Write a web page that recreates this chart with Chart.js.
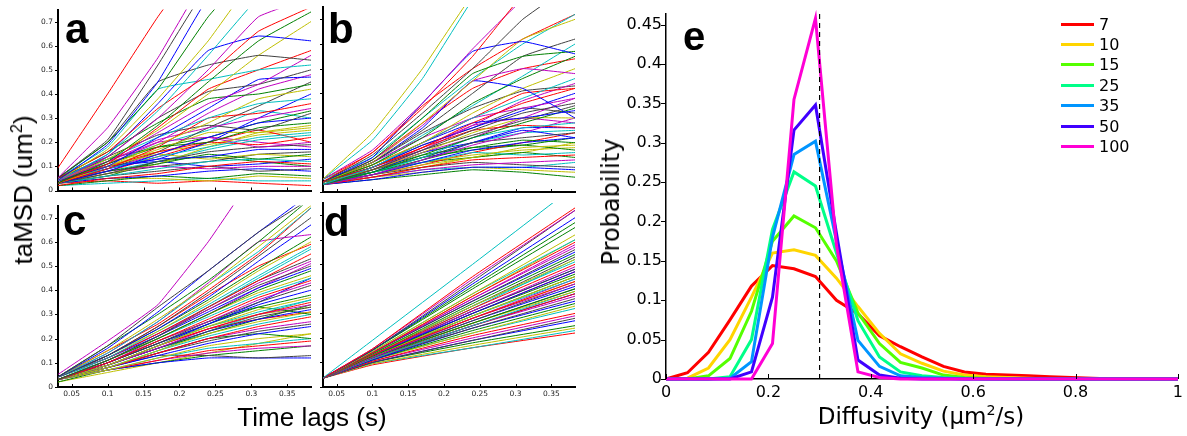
<!DOCTYPE html>
<html>
<head>
<meta charset="utf-8">
<script src="https://cdn.jsdelivr.net/npm/chart.js@4.4.0/dist/chart.umd.min.js"></script>
<style>
  body { margin: 0; width: 1187px; height: 436px; background: #fff; position: relative; overflow: hidden; }
  canvas { position: absolute; }
  .lbl { position: absolute; white-space: nowrap; color: #000; }
  .letter { position: absolute; font: bold 42px 'Liberation Sans', Arial, sans-serif; line-height: 42px; }
  sup { font-size: 0.62em; line-height: 0; }
  #legend { position: absolute; left: 1061px; top: 14px; font: 16px 'DejaVu Sans', sans-serif; }
  #legend div { height: 20.4px; display: flex; align-items: center; }
  #legend span.ln { display: inline-block; width: 33px; height: 3px; margin-right: 5px; }
</style>
</head>
<body>
<canvas id="pa"></canvas>
<canvas id="pb"></canvas>
<canvas id="pc"></canvas>
<canvas id="pd"></canvas>
<canvas id="pe"></canvas>

<div class="letter" style="left:65px; top:8px">a</div>
<div class="letter" style="left:328px; top:8px">b</div>
<div class="letter" style="left:63px; top:200px">c</div>
<div class="letter" style="left:324px; top:201px">d</div>
<div class="letter" style="left:683px; top:15px; font-size:40px">e</div>

<div class="lbl" style="left:0; width:624px; text-align:center; top:404px; font:26px 'Liberation Sans', Arial, sans-serif; line-height:26px">Time lags (s)</div>
<div class="lbl" style="left:23px; top:190px; transform:translate(-50%,-50%) rotate(-90deg); font:26px 'Liberation Sans', Arial, sans-serif; line-height:26px">taMSD (um<sup>2</sup>)</div>
<div class="lbl" style="left:611px; top:202px; transform:translate(-50%,-50%) rotate(-90deg); font:24px 'DejaVu Sans', sans-serif; line-height:24px">Probability</div>
<div class="lbl" style="left:721px; width:400px; text-align:center; top:405px; font:23px 'DejaVu Sans', sans-serif; line-height:23px">Diffusivity (µm<sup>2</sup>/s)</div>
<div id="legend"></div>

<script>
// time lags (s) at which each taMSD curve is sampled
const lagsABC = [0.03, 0.1, 0.17, 0.24, 0.31, 0.383];
const lagsD = [0.03, 0.1, 0.24, 0.383];
const lagTicks = [0.05, 0.1, 0.15, 0.2, 0.25, 0.3, 0.35];
const msdTicks = [0, 0.1, 0.2, 0.3, 0.4, 0.5, 0.6, 0.7];

// taMSD (um^2), one row per trajectory
const msdA = [
  [0.09, 0.40, 0.72, 1.0, 1.2, 1.4],
  [0.05, 0.26, 0.55, 0.9, 1.1, 1.2],
  [0.05, 0.21, 0.52, 0.85, 1.0, 1.2],
  [0.04, 0.19, 0.45, 0.8, 1.0, 1.1],
  [0.05, 0.2, 0.42, 0.72, 0.95, 1.1],
  [0.04, 0.17, 0.38, 0.62, 0.9, 1.0],
  [0.04, 0.15, 0.33, 0.56, 0.8, 0.95],
  [0.05, 0.16, 0.34, 0.48, 0.66, 0.76],
  [0.04, 0.14, 0.30, 0.50, 0.72, 0.8],
  [0.05, 0.2, 0.45, 0.52, 0.56, 0.54],
  [0.04, 0.15, 0.36, 0.58, 0.64, 0.62],
  [0.03, 0.12, 0.27, 0.45, 0.62, 0.74],
  [0.04, 0.13, 0.25, 0.4, 0.56, 0.7],
  [0.05, 0.18, 0.42, 0.46, 0.5, 0.52],
  [0.03, 0.11, 0.26, 0.42, 0.5, 0.58],
  [0.04, 0.12, 0.24, 0.36, 0.44, 0.56],
  [0.03, 0.14, 0.3, 0.41, 0.44, 0.5],
  [0.04, 0.10, 0.22, 0.34, 0.46, 0.47],
  [0.05, 0.16, 0.28, 0.38, 0.40, 0.44],
  [0.03, 0.1, 0.19, 0.28, 0.38, 0.42],
  [0.04, 0.13, 0.22, 0.3, 0.36, 0.38],
  [0.03, 0.09, 0.18, 0.3, 0.32, 0.36],
  [0.04, 0.12, 0.21, 0.26, 0.3, 0.34],
  [0.05, 0.14, 0.23, 0.27, 0.25, 0.32],
  [0.03, 0.08, 0.15, 0.22, 0.28, 0.3],
  [0.04, 0.11, 0.18, 0.2, 0.26, 0.28],
  [0.03, 0.1, 0.17, 0.24, 0.24, 0.26],
  [0.04, 0.09, 0.14, 0.18, 0.22, 0.24],
  [0.03, 0.1, 0.16, 0.2, 0.19, 0.22],
  [0.05, 0.12, 0.2, 0.22, 0.18, 0.2],
  [0.03, 0.07, 0.12, 0.16, 0.18, 0.19],
  [0.04, 0.09, 0.13, 0.14, 0.17, 0.17],
  [0.03, 0.08, 0.11, 0.15, 0.13, 0.15],
  [0.04, 0.1, 0.15, 0.13, 0.15, 0.14],
  [0.03, 0.06, 0.09, 0.12, 0.13, 0.12],
  [0.02, 0.05, 0.07, 0.1, 0.12, 0.11],
  [0.04, 0.08, 0.1, 0.09, 0.1, 0.1],
  [0.03, 0.06, 0.08, 0.1, 0.08, 0.09],
  [0.03, 0.05, 0.06, 0.08, 0.09, 0.08],
  [0.02, 0.04, 0.06, 0.05, 0.07, 0.06],
  [0.03, 0.05, 0.05, 0.04, 0.06, 0.05],
  [0.02, 0.03, 0.04, 0.05, 0.04, 0.04],
  [0.03, 0.04, 0.03, 0.04, 0.03, 0.02],
  [0.04, 0.11, 0.2, 0.32, 0.42, 0.48],
  [0.03, 0.09, 0.16, 0.26, 0.35, 0.45],
  [0.04, 0.1, 0.13, 0.2, 0.3, 0.4],
  [0.05, 0.13, 0.18, 0.22, 0.28, 0.33],
  [0.03, 0.07, 0.11, 0.18, 0.24, 0.27],
  [0.04, 0.08, 0.12, 0.17, 0.21, 0.23],
  [0.03, 0.08, 0.14, 0.2, 0.25, 0.2],
  [0.04, 0.09, 0.15, 0.22, 0.2, 0.18],
  [0.03, 0.07, 0.1, 0.12, 0.15, 0.16],
  [0.05, 0.1, 0.12, 0.1, 0.11, 0.13],
  [0.03, 0.06, 0.12, 0.14, 0.12, 0.1],
  [0.04, 0.12, 0.16, 0.19, 0.23, 0.25],
  [0.03, 0.11, 0.19, 0.25, 0.33, 0.3]
];

const msdB = [
  [0.05, 0.24, 0.5, 0.8, 1.0, 1.2],
  [0.05, 0.21, 0.46, 0.78, 1.0, 1.1],
  [0.04, 0.16, 0.34, 0.55, 0.8, 1.0],
  [0.05, 0.17, 0.36, 0.58, 0.78, 0.9],
  [0.04, 0.15, 0.32, 0.5, 0.7, 0.85],
  [0.04, 0.14, 0.36, 0.57, 0.61, 0.56],
  [0.04, 0.13, 0.3, 0.48, 0.55, 0.57],
  [0.04, 0.12, 0.28, 0.45, 0.62, 0.7],
  [0.05, 0.14, 0.3, 0.46, 0.6, 0.72],
  [0.05, 0.16, 0.35, 0.5, 0.62, 0.72],
  [0.04, 0.13, 0.27, 0.45, 0.5, 0.48],
  [0.04, 0.12, 0.25, 0.4, 0.55, 0.62],
  [0.04, 0.12, 0.26, 0.45, 0.42, 0.3],
  [0.04, 0.11, 0.22, 0.36, 0.46, 0.55],
  [0.04, 0.11, 0.2, 0.32, 0.42, 0.5],
  [0.03, 0.1, 0.2, 0.3, 0.38, 0.46],
  [0.04, 0.1, 0.18, 0.28, 0.36, 0.42],
  [0.04, 0.12, 0.22, 0.3, 0.34, 0.38],
  [0.03, 0.09, 0.17, 0.25, 0.32, 0.36],
  [0.04, 0.1, 0.2, 0.28, 0.3, 0.33],
  [0.03, 0.08, 0.15, 0.22, 0.28, 0.34],
  [0.04, 0.09, 0.16, 0.24, 0.3, 0.3],
  [0.03, 0.08, 0.14, 0.22, 0.26, 0.28],
  [0.04, 0.1, 0.18, 0.25, 0.27, 0.26],
  [0.03, 0.07, 0.13, 0.19, 0.24, 0.3],
  [0.04, 0.09, 0.14, 0.2, 0.22, 0.24],
  [0.03, 0.07, 0.12, 0.17, 0.2, 0.22],
  [0.04, 0.08, 0.13, 0.18, 0.21, 0.2],
  [0.03, 0.07, 0.11, 0.14, 0.18, 0.19],
  [0.04, 0.08, 0.12, 0.16, 0.15, 0.16],
  [0.03, 0.06, 0.1, 0.13, 0.14, 0.15],
  [0.03, 0.06, 0.09, 0.11, 0.12, 0.13],
  [0.04, 0.07, 0.1, 0.12, 0.11, 0.1],
  [0.03, 0.05, 0.08, 0.1, 0.1, 0.09],
  [0.03, 0.05, 0.07, 0.09, 0.08, 0.06],
  [0.04, 0.06, 0.08, 0.1, 0.09, 0.08],
  [0.03, 0.06, 0.09, 0.1, 0.1, 0.12],
  [0.04, 0.11, 0.2, 0.3, 0.4, 0.42],
  [0.03, 0.09, 0.17, 0.27, 0.37, 0.44],
  [0.04, 0.1, 0.17, 0.23, 0.29, 0.35],
  [0.03, 0.08, 0.16, 0.2, 0.25, 0.22],
  [0.04, 0.09, 0.15, 0.18, 0.19, 0.17],
  [0.03, 0.07, 0.12, 0.15, 0.17, 0.18],
  [0.04, 0.08, 0.14, 0.2, 0.24, 0.25],
  [0.03, 0.07, 0.11, 0.16, 0.2, 0.24],
  [0.04, 0.09, 0.16, 0.22, 0.3, 0.38],
  [0.04, 0.12, 0.24, 0.34, 0.41, 0.43],
  [0.03, 0.1, 0.19, 0.26, 0.33, 0.4],
  [0.04, 0.08, 0.12, 0.14, 0.16, 0.14],
  [0.03, 0.06, 0.1, 0.14, 0.16, 0.2],
  [0.04, 0.11, 0.23, 0.35, 0.47, 0.6],
  [0.04, 0.13, 0.28, 0.42, 0.5, 0.54],
  [0.03, 0.09, 0.18, 0.27, 0.3, 0.28],
  [0.04, 0.1, 0.19, 0.26, 0.34, 0.32],
  [0.03, 0.07, 0.13, 0.2, 0.26, 0.26],
  [0.04, 0.08, 0.14, 0.17, 0.19, 0.22]
];

const msdC = [
  [0.05, 0.19, 0.34, 0.6, 0.9, 1.1],
  [0.04, 0.17, 0.33, 0.48, 0.64, 0.78],
  [0.04, 0.16, 0.31, 0.48, 0.64, 0.8],
  [0.04, 0.17, 0.3, 0.44, 0.6, 0.78],
  [0.04, 0.15, 0.28, 0.42, 0.58, 0.75],
  [0.04, 0.14, 0.27, 0.42, 0.56, 0.74],
  [0.04, 0.15, 0.26, 0.4, 0.55, 0.74],
  [0.04, 0.14, 0.27, 0.43, 0.6, 0.63],
  [0.04, 0.13, 0.25, 0.39, 0.54, 0.7],
  [0.04, 0.13, 0.24, 0.37, 0.52, 0.67],
  [0.04, 0.13, 0.24, 0.36, 0.49, 0.62],
  [0.04, 0.13, 0.23, 0.35, 0.48, 0.6],
  [0.04, 0.12, 0.23, 0.34, 0.46, 0.58],
  [0.04, 0.12, 0.22, 0.33, 0.44, 0.55],
  [0.04, 0.12, 0.22, 0.32, 0.43, 0.52],
  [0.03, 0.11, 0.21, 0.32, 0.42, 0.5],
  [0.04, 0.12, 0.21, 0.31, 0.41, 0.49],
  [0.03, 0.11, 0.2, 0.3, 0.4, 0.48],
  [0.03, 0.11, 0.2, 0.3, 0.39, 0.46],
  [0.04, 0.11, 0.2, 0.29, 0.38, 0.45],
  [0.03, 0.1, 0.19, 0.28, 0.37, 0.44],
  [0.03, 0.1, 0.19, 0.27, 0.36, 0.43],
  [0.03, 0.1, 0.18, 0.27, 0.35, 0.42],
  [0.03, 0.1, 0.18, 0.26, 0.34, 0.4],
  [0.03, 0.1, 0.18, 0.26, 0.33, 0.38],
  [0.03, 0.09, 0.17, 0.25, 0.32, 0.37],
  [0.03, 0.09, 0.17, 0.25, 0.31, 0.36],
  [0.03, 0.09, 0.17, 0.24, 0.3, 0.35],
  [0.03, 0.09, 0.16, 0.24, 0.3, 0.34],
  [0.03, 0.09, 0.16, 0.23, 0.29, 0.33],
  [0.03, 0.09, 0.16, 0.23, 0.28, 0.32],
  [0.03, 0.1, 0.19, 0.27, 0.33, 0.3],
  [0.03, 0.08, 0.15, 0.22, 0.27, 0.31],
  [0.03, 0.08, 0.15, 0.21, 0.26, 0.3],
  [0.03, 0.08, 0.14, 0.2, 0.25, 0.29],
  [0.03, 0.08, 0.14, 0.2, 0.24, 0.27],
  [0.03, 0.08, 0.14, 0.19, 0.23, 0.26],
  [0.03, 0.08, 0.13, 0.18, 0.22, 0.25],
  [0.03, 0.08, 0.14, 0.2, 0.22, 0.2],
  [0.03, 0.07, 0.12, 0.17, 0.2, 0.22],
  [0.03, 0.07, 0.12, 0.16, 0.18, 0.2],
  [0.03, 0.07, 0.11, 0.15, 0.17, 0.19],
  [0.03, 0.07, 0.11, 0.14, 0.16, 0.17],
  [0.03, 0.08, 0.13, 0.13, 0.12, 0.13],
  [0.03, 0.07, 0.1, 0.12, 0.12, 0.12],
  [0.02, 0.07, 0.1, 0.13, 0.15, 0.17],
  [0.02, 0.06, 0.1, 0.14, 0.18, 0.22],
  [0.04, 0.12, 0.22, 0.33, 0.45, 0.57],
  [0.04, 0.13, 0.25, 0.38, 0.5, 0.59],
  [0.03, 0.1, 0.2, 0.3, 0.41, 0.51],
  [0.03, 0.11, 0.21, 0.33, 0.44, 0.53],
  [0.03, 0.09, 0.17, 0.26, 0.35, 0.45],
  [0.03, 0.09, 0.16, 0.22, 0.28, 0.34],
  [0.03, 0.1, 0.18, 0.25, 0.3, 0.33],
  [0.03, 0.08, 0.15, 0.23, 0.3, 0.36],
  [0.03, 0.09, 0.17, 0.24, 0.28, 0.31]
];

const msdD = [
  [0.035, 0.19, 0.5, 0.82],
  [0.035, 0.155, 0.45, 0.73],
  [0.035, 0.155, 0.44, 0.72],
  [0.035, 0.15, 0.43, 0.72],
  [0.035, 0.15, 0.42, 0.69],
  [0.035, 0.15, 0.4, 0.65],
  [0.035, 0.145, 0.38, 0.62],
  [0.035, 0.145, 0.38, 0.6],
  [0.035, 0.14, 0.37, 0.59],
  [0.035, 0.14, 0.36, 0.58],
  [0.035, 0.14, 0.35, 0.56],
  [0.035, 0.14, 0.35, 0.55],
  [0.035, 0.135, 0.34, 0.54],
  [0.035, 0.135, 0.33, 0.52],
  [0.035, 0.135, 0.33, 0.51],
  [0.035, 0.13, 0.32, 0.5],
  [0.035, 0.13, 0.31, 0.49],
  [0.035, 0.13, 0.31, 0.48],
  [0.035, 0.13, 0.3, 0.47],
  [0.035, 0.125, 0.3, 0.46],
  [0.035, 0.125, 0.29, 0.45],
  [0.035, 0.125, 0.29, 0.44],
  [0.035, 0.125, 0.28, 0.43],
  [0.035, 0.12, 0.28, 0.42],
  [0.035, 0.12, 0.27, 0.42],
  [0.035, 0.12, 0.27, 0.41],
  [0.035, 0.12, 0.26, 0.4],
  [0.035, 0.12, 0.26, 0.39],
  [0.035, 0.115, 0.25, 0.39],
  [0.035, 0.115, 0.25, 0.38],
  [0.035, 0.115, 0.25, 0.37],
  [0.035, 0.115, 0.24, 0.36],
  [0.035, 0.11, 0.24, 0.35],
  [0.035, 0.11, 0.23, 0.34],
  [0.035, 0.11, 0.22, 0.33],
  [0.035, 0.11, 0.22, 0.32],
  [0.035, 0.105, 0.21, 0.3],
  [0.035, 0.105, 0.2, 0.29],
  [0.035, 0.1, 0.19, 0.28],
  [0.035, 0.1, 0.19, 0.27],
  [0.035, 0.1, 0.18, 0.25],
  [0.035, 0.095, 0.17, 0.24],
  [0.035, 0.095, 0.16, 0.23],
  [0.035, 0.09, 0.16, 0.22],
  [0.035, 0.14, 0.36, 0.57],
  [0.035, 0.13, 0.33, 0.53],
  [0.035, 0.125, 0.31, 0.48],
  [0.035, 0.12, 0.29, 0.45],
  [0.035, 0.12, 0.28, 0.43],
  [0.035, 0.13, 0.32, 0.52],
  [0.035, 0.125, 0.3, 0.47],
  [0.035, 0.12, 0.28, 0.44],
  [0.035, 0.115, 0.26, 0.4],
  [0.035, 0.11, 0.25, 0.38],
  [0.035, 0.15, 0.41, 0.67],
  [0.035, 0.14, 0.37, 0.6]
];

// panel e: diffusivity histogram bin centres (um^2/s) and probabilities
const diffBins = [0, 0.042, 0.083, 0.125, 0.167, 0.208, 0.25, 0.292, 0.333, 0.375, 0.417, 0.458, 0.5,
  0.542, 0.583, 0.625, 0.667, 0.708, 0.75, 0.792, 0.833, 0.875, 0.917, 0.958, 1];
const densities = ['7', '10', '15', '25', '35', '50', '100'];
const prob7 = [0, 0.008, 0.034, 0.075, 0.118, 0.144, 0.14, 0.13, 0.1, 0.083, 0.055, 0.041, 0.028, 0.016, 0.009, 0.006, 0.005, 0.004, 0.003, 0.002, 0.001, 0, 0, 0, 0];
const prob10 = [0, 0.001, 0.014, 0.05, 0.104, 0.16, 0.164, 0.157, 0.128, 0.092, 0.058, 0.032, 0.02, 0.01, 0.005, 0.003, 0.002, 0.001, 0, 0, 0, 0, 0, 0, 0];
const prob15 = [0, 0, 0.004, 0.026, 0.086, 0.175, 0.207, 0.192, 0.15, 0.084, 0.045, 0.021, 0.014, 0.005, 0.002, 0.001, 0, 0, 0, 0, 0, 0, 0, 0, 0];
const prob25 = [0, 0, 0, 0.003, 0.05, 0.19, 0.263, 0.245, 0.16, 0.074, 0.028, 0.009, 0.004, 0.002, 0.001, 0, 0, 0, 0, 0, 0, 0, 0, 0, 0];
const prob35 = [0, 0, 0, 0.001, 0.022, 0.18, 0.285, 0.302, 0.175, 0.049, 0.016, 0.004, 0.002, 0.001, 0, 0, 0, 0, 0, 0, 0, 0, 0, 0, 0];
const prob50 = [0, 0, 0, 0, 0.009, 0.104, 0.316, 0.348, 0.185, 0.024, 0.005, 0.001, 0, 0, 0, 0, 0, 0, 0, 0, 0, 0, 0, 0, 0];
const prob100 = [0, 0, 0, 0, 0, 0.045, 0.355, 0.458, 0.17, 0.009, 0.002, 0, 0, 0, 0, 0, 0, 0, 0, 0, 0, 0, 0, 0, 0];
const probTicks = [0, 0.05, 0.1, 0.15, 0.2, 0.25, 0.3, 0.35, 0.4, 0.45];
const diffTicks = [0, 0.2, 0.4, 0.6, 0.8, 1];
const refDiff = 0.3;

const lineColors = ['#ff0000', '#bf00bf', '#404040', '#0000ff', '#008000', '#bfbf00', '#00bfbf'];
const densColors = ['#ff0000', '#ffd500', '#55ff00', '#00ff88', '#0095ff', '#4000ff', '#ff00d5'];

Chart.defaults.font.family = "'DejaVu Sans', sans-serif";
Chart.defaults.color = '#000';

// tick marks: x ticks point up into the plot, y ticks point left out of it
const tickMarks = {
	id: 'tickMarks',
	afterDraw(chart, args, opts) {
		const { ctx, chartArea: a, scales: { x, y } } = chart;
		const len = opts.len || 4;
		ctx.save();
		ctx.strokeStyle = '#000';
		ctx.lineWidth = 1;
		ctx.beginPath();
		x.ticks.forEach(t => {
			const px = Math.round(x.getPixelForValue(t.value)) + 0.5;
			ctx.moveTo(px, a.bottom);
			ctx.lineTo(px, a.bottom - len);
		});
		y.ticks.forEach(t => {
			const py = Math.round(y.getPixelForValue(t.value)) + 0.5;
			ctx.moveTo(a.left, py);
			ctx.lineTo(a.left - len, py);
		});
		ctx.stroke();
		ctx.restore();
	}
};

const fmt = v => String(v);

const msdChart = (id, box, lags, lines, showX, showY, colorShift) => {
	const canvas = document.getElementById(id);
	const padL = 40, padT = 7, padR = 3, xh = showX ? 20 : 8;
	canvas.width = box.right - box.left + padL + padR;
	canvas.height = box.bottom - box.top + padT + xh;
	canvas.style.left = (box.left - padL) + 'px';
	canvas.style.top = (box.top - padT) + 'px';
	return new Chart(canvas, {
		type: 'line',
		data: {
			datasets: lines.map((vals, i) => ({
				data: vals.map((v, j) => ({ x: lags[j], y: v })),
				borderColor: lineColors[(i + colorShift) % lineColors.length],
				borderWidth: 1,
				pointRadius: 0,
				tension: 0.1,
				clip: 0
			}))
		},
		options: {
			responsive: false,
			animation: false,
			events: [],
			layout: { padding: { top: padT, right: padR, left: 0, bottom: 0 } },
			plugins: { legend: { display: false }, tooltip: { enabled: false }, tickMarks: { len: 3 } },
			scales: {
				x: {
					type: 'linear', min: 0.031, max: 0.383,
					grid: { display: false, drawTicks: false },
					border: { display: true, color: '#000', width: 2 },
					afterBuildTicks: s => { s.ticks = lagTicks.map(v => ({ value: v })); },
					afterFit: s => { s.height = xh; },
					ticks: { display: showX, padding: 3, font: { size: 7.5 }, color: '#222', maxRotation: 0, autoSkip: false, callback: fmt }
				},
				y: {
					type: 'linear', min: 0, max: 0.75,
					grid: { display: false, drawTicks: false },
					border: { display: true, color: '#000', width: 2 },
					afterBuildTicks: s => { s.ticks = msdTicks.map(v => ({ value: v })); },
					afterFit: s => { s.width = padL; },
					ticks: { display: showY, padding: 5, font: { size: 7.5 }, color: '#222', autoSkip: false, callback: fmt }
				}
			}
		},
		plugins: [tickMarks]
	});
}

msdChart('pa', { left: 58, top: 7, right: 311, bottom: 192 }, lagsABC, msdA, false, true, 0);
msdChart('pb', { left: 323, top: 7, right: 575, bottom: 192 }, lagsABC, msdB, false, false, 5);
msdChart('pc', { left: 58, top: 203, right: 311, bottom: 387 }, lagsABC, msdC, true, true, 1);
msdChart('pd', { left: 323, top: 203, right: 575, bottom: 387 }, lagsD, msdD, true, false, 6);

// panel e
const probSeries = [prob7, prob10, prob15, prob25, prob35, prob50, prob100];
const eCanvas = document.getElementById('pe');
eCanvas.width = 571;
eCanvas.height = 410;
eCanvas.style.left = '616px';
eCanvas.style.top = '0px';
const yMaxE = 0.464;

new Chart(eCanvas, {
	type: 'line',
	data: {
		datasets: [
			{
				data: [{ x: refDiff, y: 0 }, { x: refDiff, y: yMaxE }],
				borderColor: '#000', borderWidth: 1.2, borderDash: [5, 4], pointRadius: 0, order: 0
			},
			...probSeries.map((s, i) => ({
				label: densities[i],
				data: s.map((v, j) => ({ x: diffBins[j], y: v })),
				borderColor: densColors[i],
				borderWidth: 3,
				borderJoinStyle: 'miter',
				pointRadius: 0,
				order: probSeries.length - i,
				clip: false
			}))
		]
	},
	options: {
		responsive: false,
		animation: false,
		events: [],
		layout: { padding: { top: 12, right: 8, left: 0, bottom: 0 } },
		plugins: { legend: { display: false }, tooltip: { enabled: false }, tickMarks: { len: 5 } },
		scales: {
			x: {
				type: 'linear', min: 0, max: 1,
				grid: { display: false, drawTicks: false },
				border: { display: true, color: '#000', width: 1.5 },
				afterBuildTicks: s => { s.ticks = diffTicks.map(v => ({ value: v })); },
				afterFit: s => { s.height = 31; },
				ticks: { padding: 4, font: { size: 16 }, maxRotation: 0, autoSkip: false, callback: fmt }
			},
			y: {
				type: 'linear', min: 0, max: yMaxE,
				grid: { display: false, drawTicks: false },
				border: { display: true, color: '#000', width: 1.5 },
				afterBuildTicks: s => { s.ticks = probTicks.map(v => ({ value: v })); },
				afterFit: s => { s.width = 50; },
				ticks: { padding: 4, font: { size: 16 }, autoSkip: false, callback: fmt }
			}
		}
	},
	plugins: [tickMarks]
});

// legend for panel e
const legend = document.getElementById('legend');
densities.forEach((name, i) => {
	const row = document.createElement('div');
	row.innerHTML = `<span class="ln" style="background:${densColors[i]}"></span>${name}`;
	legend.appendChild(row);
});
</script>
</body>
</html>
